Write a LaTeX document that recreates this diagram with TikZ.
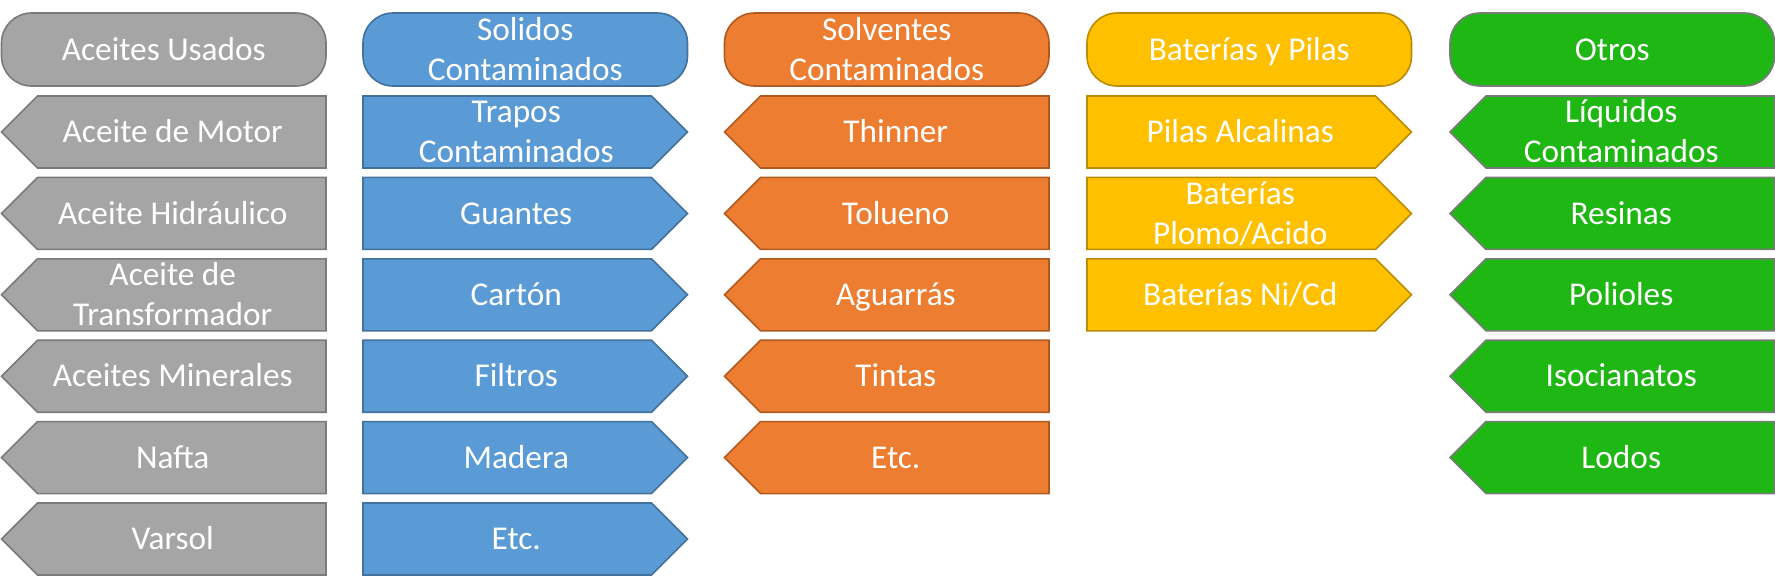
\documentclass[tikz,border=0pt]{standalone}
\usepackage{fontspec}
\setmainfont{Carlito}
\definecolor{grayF}{HTML}{A5A5A5}
\definecolor{grayD}{HTML}{7A7A7A}
\definecolor{blueF}{HTML}{5B9BD5}
\definecolor{blueD}{HTML}{41719C}
\definecolor{orangeF}{HTML}{ED7D31}
\definecolor{orangeD}{HTML}{AE5A21}
\definecolor{yellowF}{HTML}{FFC000}
\definecolor{yellowD}{HTML}{BC8C00}
\definecolor{greenF}{HTML}{1FB714}
\definecolor{greenD}{HTML}{7A7A7A}
\tikzset{
  shp/.style={line width=1.6pt, line join=miter},
  grayS/.style={shp, fill=grayF, draw=grayD},
  blueS/.style={shp, fill=blueF, draw=blueD},
  orangeS/.style={shp, fill=orangeF, draw=orangeD},
  yellowS/.style={shp, fill=yellowF, draw=yellowD},
  greenS/.style={shp, fill=greenF, draw=greenD},
  txt/.style={text=white, anchor=base, inner sep=0pt, font=\fontsize{33.3}{40}\selectfont},
}
\newcommand\twoline[2]{\begin{tabular}[b]{@{}c@{}}#1\\#2\end{tabular}}
% header: x0, style, name, text, baseline offset
\newcommand\hdr[5]{%
  \path[#2, rounded corners=30pt] (#1,13) rectangle (#1+324.5,86);
  \node[txt] (#3) at (#1+162.25, 49.5+#5) {#4};
}
% left-pointing chevron: x0, row, style, name, text, baseline offset
\newcommand\chevL[6]{%
  \pgfmathsetmacro\yt{96+81.4*#2}
  \path[#3] (#1,\yt+36) -- (#1+36,\yt) -- (#1+324.5,\yt) -- (#1+324.5,\yt+72) -- (#1+36,\yt+72) -- cycle;
  \node[txt] (#4) at (#1+171.25, \yt+36+#6) {#5};
}
% right-pointing chevron
\newcommand\chevR[6]{%
  \pgfmathsetmacro\yt{96+81.4*#2}
  \path[#3] (#1,\yt) -- (#1+288.5,\yt) -- (#1+324.5,\yt+36) -- (#1+288.5,\yt+72) -- (#1,\yt+72) -- cycle;
  \node[txt] (#4) at (#1+153.25, \yt+36+#6) {#5};
}
\begin{document}
\begin{tikzpicture}[x=1pt,y=-1pt]
\useasboundingbox (0,0) rectangle (1775,579);
% column 1
\hdr{1.5}{grayS}{h1}{Aceites Usados}{10.7}
\chevL{1.5}{0}{grayS}{a1}{Aceite de Motor}{10.7}
\chevL{1.5}{1}{grayS}{a2}{Aceite Hidráulico}{10.7}
\chevL{1.5}{2}{grayS}{a3}{\twoline{Aceite de}{Transformador}}{30.7}
\chevL{1.5}{3}{grayS}{a4}{Aceites Minerales}{10.7}
\chevL{1.5}{4}{grayS}{a5}{Nafta}{10.7}
\chevL{1.5}{5}{grayS}{a6}{Varsol}{10.7}
% column 2
\hdr{363}{blueS}{h2}{\twoline{Solidos}{Contaminados}}{30.7}
\chevR{363}{0}{blueS}{b1}{\twoline{Trapos}{Contaminados}}{30.7}
\chevR{363}{1}{blueS}{b2}{Guantes}{10.7}
\chevR{363}{2}{blueS}{b3}{Cartón}{10.7}
\chevR{363}{3}{blueS}{b4}{Filtros}{10.7}
\chevR{363}{4}{blueS}{b5}{Madera}{10.7}
\chevR{363}{5}{blueS}{b6}{Etc.}{10.7}
% column 3
\hdr{724.5}{orangeS}{h3}{\twoline{Solventes}{Contaminados}}{30.7}
\chevL{724.5}{0}{orangeS}{c1}{Thinner}{10.7}
\chevL{724.5}{1}{orangeS}{c2}{Tolueno}{10.7}
\chevL{724.5}{2}{orangeS}{c3}{Aguarrás}{10.7}
\chevL{724.5}{3}{orangeS}{c4}{Tintas}{10.7}
\chevL{724.5}{4}{orangeS}{c5}{Etc.}{10.7}
% column 4
\hdr{1087}{yellowS}{h4}{Baterías y Pilas}{10.7}
\chevR{1087}{0}{yellowS}{d1}{Pilas Alcalinas}{10.7}
\chevR{1087}{1}{yellowS}{d2}{\twoline{Baterías}{Plomo/Acido}}{30.7}
\chevR{1087}{2}{yellowS}{d3}{Baterías Ni/Cd}{10.7}
% column 5
\hdr{1450}{greenS}{h5}{Otros}{10.7}
\chevL{1450}{0}{greenS}{e1}{\twoline{Líquidos}{Contaminados}}{30.7}
\chevL{1450}{1}{greenS}{e2}{Resinas}{10.7}
\chevL{1450}{2}{greenS}{e3}{Polioles}{10.7}
\chevL{1450}{3}{greenS}{e4}{Isocianatos}{10.7}
\chevL{1450}{4}{greenS}{e5}{Lodos}{10.7}
\end{tikzpicture}
\end{document}
